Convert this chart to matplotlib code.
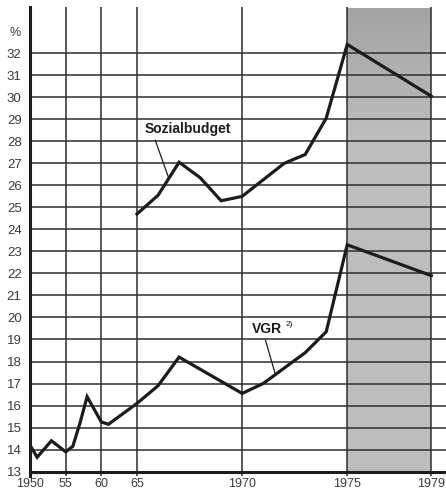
import numpy as np
import matplotlib
matplotlib.use('Agg')
import matplotlib.pyplot as plt

plt.rcParams['font.family'] = ['Liberation Sans', 'DejaVu Sans']

# Sozialleistungsquote, in % (Sozialbudget vs. VGR)
soz_years = [1965, 1966, 1967, 1968, 1969, 1970, 1972, 1973, 1974, 1975, 1979]
soz_vals = [24.7, 25.55, 27.05, 26.35, 25.3, 25.5, 27.0, 27.4, 29.05, 32.4, 30.05]

vgr_years = [1950, 1951, 1953, 1955, 1956, 1957, 1958, 1960, 1961, 1965,
             1966, 1967, 1970, 1971, 1973, 1974, 1975, 1979]
vgr_vals = [14.2, 13.65, 14.4, 13.9, 14.15, 15.2, 16.4, 15.25, 15.15, 16.1,
            16.9, 18.2, 16.55, 17.0, 18.4, 19.35, 23.3, 21.9]

x_ticks = [1950, 1955, 1960, 1965, 1970, 1975, 1979]
x_labels = ['1950', '55', '60', '65', '1970', '1975', '1979']
y_ticks = list(range(13, 33))

forecast_span = (1975, 1979)

# years before 1965 are drawn compressed
STRETCH = 2.945


def fwd(x):
    x = np.asarray(x, dtype=float)
    return np.where(x <= 1965, x - 1950, 15 + (x - 1965) * STRETCH)


def inv(u):
    u = np.asarray(u, dtype=float)
    return np.where(u <= 15, u + 1950, 1965 + (u - 15) / STRETCH)


def shade_forecast(ax, top):
    # grey band, a little darker towards the top
    shade = np.clip(np.linspace(0.64, 1.0, 80), None, 0.74).reshape(-1, 1)
    ax.imshow(shade, cmap='gray', vmin=0, vmax=1, aspect='auto',
              extent=(forecast_span[0], forecast_span[1], 13, top),
              origin='upper', interpolation='bilinear', zorder=0.2)


def main():
    fig = plt.figure(figsize=(4.46, 4.90), dpi=100)
    ax = fig.add_axes([30 / 446, 14 / 490, 416 / 446, 469 / 490])
    ax.set_xscale('function', functions=(fwd, inv))

    ink = '#1c1c1c'
    top = 34.1
    shade_forecast(ax, top)
    ax.set_xlim(1950, 1979.7)
    ax.set_ylim(12.8, top)

    ax.set_xticks(x_ticks)
    ax.set_xticklabels(x_labels)
    ax.set_yticks(y_ticks)
    ax.set_axisbelow(True)
    ax.grid(True, color='#2e2e2e', lw=1.1)
    ax.axhline(13, color=ink, lw=2.2, zorder=0.6)
    ax.tick_params(length=0, labelsize=9.5, labelcolor='#3a3a3a')
    ax.tick_params(axis='x', pad=1.5, labelsize=9)
    ax.tick_params(axis='y', pad=6)

    for side in ['top', 'right', 'bottom']:
        ax.spines[side].set_visible(False)
    ax.spines['left'].set_linewidth(2.2)
    ax.spines['left'].set_color(ink)

    ax.plot(soz_years, soz_vals, color=ink, lw=2.3, solid_joinstyle='miter', zorder=3)
    ax.plot(vgr_years, vgr_vals, color=ink, lw=2.3, solid_joinstyle='miter', zorder=3)

    ax.annotate('Sozialbudget', xy=(1966.5, 26.35), xytext=(1967.4, 28.56),
                ha='center', va='center', fontsize=10, fontweight='bold', color=ink,
                arrowprops=dict(arrowstyle='-', color=ink, lw=0.9,
                                relpos=(0.11, 0.0), shrinkA=1, shrinkB=0))
    ax.annotate('VGR', xy=(1971.57, 17.45), xytext=(1970.45, 19.48),
                ha='left', va='center', fontsize=10, fontweight='bold', color=ink,
                arrowprops=dict(arrowstyle='-', color=ink, lw=0.9,
                                relpos=(0.42, 0.0), shrinkA=1, shrinkB=0))
    ax.text(1972.05, 19.7, '2)', fontsize=6, color=ink, ha='left', va='center')

    fig.text(15 / 446, 1 - 33 / 490, '%', fontsize=9, color='#3a3a3a',
             ha='center', va='center')

    fig.savefig('out.png', dpi=100)


if __name__ == '__main__':
    main()
